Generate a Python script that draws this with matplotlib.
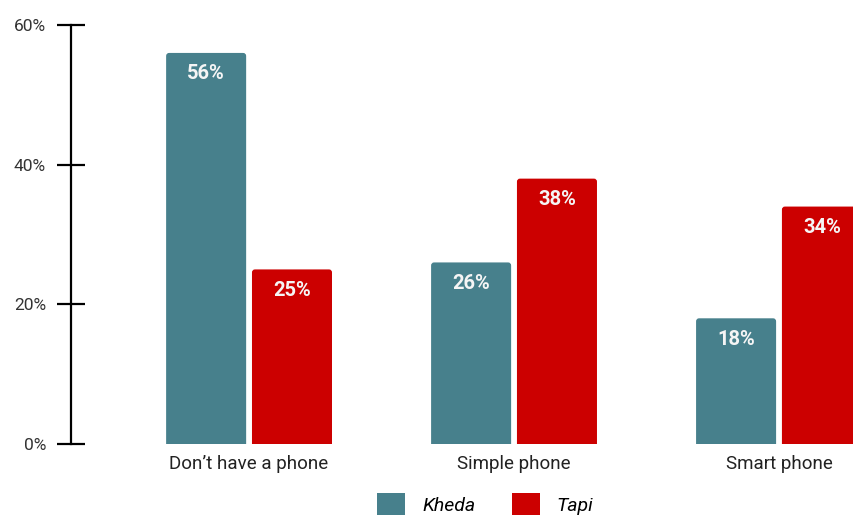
import matplotlib
matplotlib.use("Agg")
import matplotlib.pyplot as plt
import numpy as np
from matplotlib.patches import Patch, FancyBboxPatch

# phone ownership share by district
categories = ["Don\u2019t have a phone", "Simple phone", "Smart phone"]
kheda = [56, 26, 18]
tapi = [25, 38, 34]
series_names = ["Kheda", "Tapi"]
yticks = [0, 20, 40, 60]

teal = "#47808c"
red = "#cc0000"

plt.rcParams["font.family"] = ["Roboto", "DejaVu Sans"]

fig = plt.figure(figsize=(8.54, 5.15), dpi=100)
ax = fig.add_axes([71 / 854, 71 / 515, 1 - 71 / 854, 419 / 515])

x = np.arange(len(categories))
width = 0.302
offset = 0.162

ax.set_xlim(-0.672, 2.283)
ax.set_ylim(0, 60)

# bars with slightly rounded tops; the bottom corners sit below the axis and get clipped
px_x = 1 / 265.0
px_y = 60 / 419.0
aspect = px_y / px_x
for vals, dx, col in [(kheda, -offset, teal), (tapi, offset, red)]:
    for xi, v in zip(x, vals):
        left = xi + dx - width / 2
        p = FancyBboxPatch((left, -2), width, v + 2,
                           boxstyle=f"round,pad=0,rounding_size={3 * px_x}",
                           mutation_aspect=aspect, facecolor=col,
                           edgecolor="none", clip_on=True)
        ax.add_patch(p)
        ax.annotate(f"{v}%", (xi + dx, v), xytext=(0, -15),
                    textcoords="offset points", ha="center", va="center",
                    color="#f5f5f5", fontsize=14.5, fontweight="bold")

ax.set_yticks(yticks)
ax.set_yticklabels([f"{t}%" for t in yticks], fontsize=12.5, color="#333333")
ax.set_xticks(x)
ax.set_xticklabels(categories, fontsize=13.5, color="#222222")

for s in ["top", "right", "bottom"]:
    ax.spines[s].set_visible(False)
ax.spines["left"].set_linewidth(1.6)
ax.spines["left"].set_color("black")
ax.tick_params(axis="y", direction="inout", length=20, width=1.6, pad=8)
ax.tick_params(axis="x", length=0, pad=8)

handles = [Patch(facecolor=teal), Patch(facecolor=red)]
fig.legend(handles, series_names, loc="center", bbox_to_anchor=(0.5685, 0.02),
           ncol=2, frameon=False, prop={"style": "italic", "size": 14},
           handlelength=1.44, handleheight=1.44, columnspacing=1.86,
           handletextpad=0.88)

fig.savefig("out.png", dpi=100)
